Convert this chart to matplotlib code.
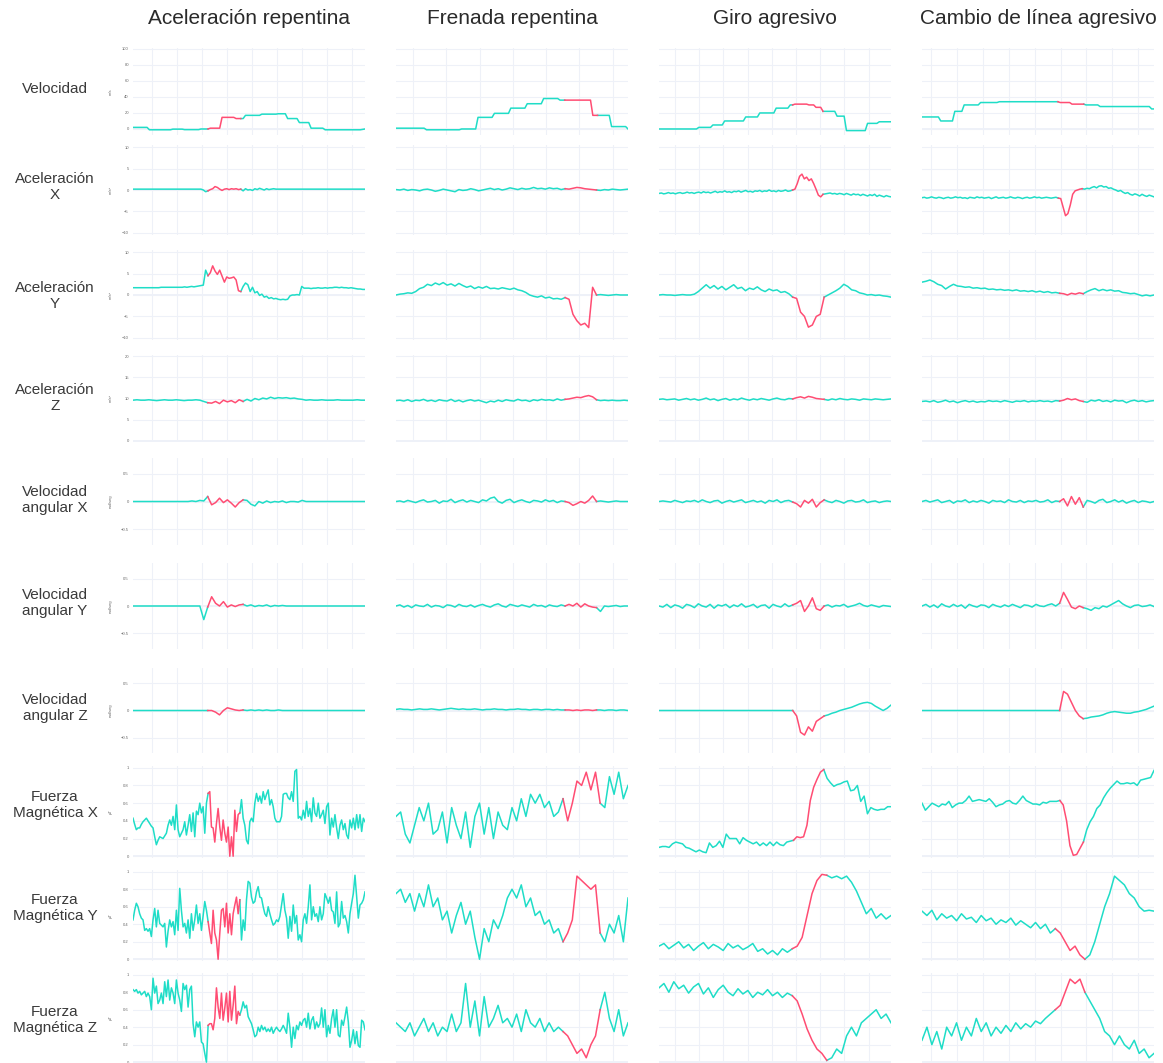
import numpy as np
import matplotlib
matplotlib.use("Agg")
import matplotlib.pyplot as plt
from matplotlib.ticker import MultipleLocator, FixedLocator, FuncFormatter

plt.rcParams['font.family'] = ['Liberation Sans', 'DejaVu Sans']

TEAL = '#1FDDC7'
RED = '#FF4D73'
GRID = '#EEF1F8'

maniobras = ['Aceleración repentina', 'Frenada repentina', 'Giro agresivo', 'Cambio de línea agresivo']
variables = ['Velocidad', 'Aceleración\nX', 'Aceleración\nY', 'Aceleración\nZ',
             'Velocidad\nangular X', 'Velocidad\nangular Y', 'Velocidad\nangular Z',
             'Fuerza\nMagnética X', 'Fuerza\nMagnética Y', 'Fuerza\nMagnética Z']
unidades = ['m/s', 'm/s²', 'm/s²', 'm/s²', 'rad/seg', 'rad/seg', 'rad/seg', 'μT', 'μT', 'μT']

# time span of every recording (s) and the marked event window (s)
t_inicio = [0.24, 0.49, 0.34, 0.65]
duracion = [9.28, 6.97, 9.59, 8.96]
evento = [(3.30, 4.51), (5.61, 6.50), (5.95, 7.08), (5.98, 6.83)]

# ---- velocidad ----
vel_acel = ([2]*7 + [-1]*10 + [-0.2]*5 + [-0.8]*7 + [0]*4 + [1]*5 + [14.5]*6 + [13]*2
            + [13]*2 + [17]*7 + [18.5]*7 + [19]*4 + [13]*5 + [8]*5 + [1]*6 + [-1]*16 + [-0.5, 0.0])
vel_fren = ([1]*13 + [-1]*15 + [0]*7 + [14.5]*7 + [19.5]*7 + [26]*7 + [31.5]*7 + [38]*7 + [36]*3
            + [36]*11 + [17]*2 + [17]*6 + [3]*7 + [0])
vel_giro = ([0]*17 + [2]*6 + [5]*5 + [10]*9 + [15]*6 + [20]*7 + [26]*6 + [30]*2
            + [31]*6 + [30]*3 + [27]*3 + [22]*6 + [16]*4 + [-2]*9 + [7]*5 + [9]*6)
vel_carril = ([15]*8 + [10]*6 + [22]*4 + [30]*7 + [33]*8 + [34]*26 + [33]*5 + [31]*6
              + [30]*6 + [28]*22 + [25]*2)

# ---- aceleración X ----
accx_acel = ([0.2]*30 + [0.0, -0.4, -0.2]
             + [0.1, 0.3, 0.8, 0.6, 0.2, -0.1, 0.2, 0.3, 0.1, 0.3, 0.2, 0.3, 0.1]
             + [0.2, -0.2, 0.3, 0.0, 0.1, -0.1, 0.3, 0.1, 0.4, 0.2, 0.0, 0.3, 0.1, 0.2, 0.3]
             + [0.2]*39)
accx_fren = [0.1, 0.0, 0.2, -0.1, 0.1, 0.0, -0.2, 0.1, 0.2, 0.0,
             -0.3, -0.1, 0.2, 0.0, -0.2, -0.4, 0.1, -0.1, 0.0, 0.3,
             0.1, -0.2, 0.0, 0.2, 0.4, 0.1, 0.3, 0.0, 0.2, 0.5,
             0.3, 0.1, 0.4, 0.2, 0.3, 0.6, 0.3, 0.4, 0.2, 0.5,
             0.3, 0.4, 0.1, 0.3, 0.2, 0.4, 0.6, 0.5, 0.3, 0.2, 0.1,
             0.0, -0.1, 0.1, 0.0, 0.2, 0.1, 0.0, 0.1, 0.2]
accx_giro = [-0.8, -0.7, -0.9, -0.8, -0.6, -0.8, -0.7, -0.9, -0.7, -0.6,
             -0.8, -0.7, -0.5, -0.7, -0.6, -0.8, -0.6, -0.5, -0.7, -0.4,
             -0.6, -0.5, -0.7, -0.5, -0.3, -0.6, -0.4, -0.5, -0.2, -0.5,
             -0.4, -0.6, -0.3, -0.4, -0.2, -0.5, -0.3, -0.1, -0.4, -0.3,
             -0.5, -0.2, -0.3, -0.1, -0.4, -0.2, -0.3, 0.0, -0.3, -0.2,
             -0.4, -0.1, -0.3, -0.2, 0.0, -0.3, -0.2, 0.0,
             0.2, 1.5, 3.2, 3.7, 2.6, 3.0, 2.2, 2.6, 1.5, 0.2, -1.2, -1.6,
             -1.0, -0.9, -0.8, -0.7, -0.9, -0.8, -1.0, -0.8, -0.9, -1.1,
             -0.8, -1.0, -1.2, -0.9, -1.1, -1.0, -1.3, -1.0, -1.2, -1.4,
             -1.1, -1.3, -1.0, -1.5, -1.2, -1.4, -1.6, -1.3, -1.5, -1.6]
accx_carril = [-1.8, -1.7, -1.9, -1.8, -1.6, -1.8, -1.9, -1.7, -1.8, -2.0,
               -1.8, -1.7, -1.9, -1.8, -1.6, -1.8, -1.7, -1.9, -1.8, -2.0,
               -1.7, -1.8, -1.9, -1.6, -1.8, -1.7, -1.9, -1.8, -1.7, -2.0,
               -1.8, -1.6, -1.9, -1.8, -1.7, -1.9, -1.8, -1.6, -1.8, -1.9,
               -1.7, -1.8, -2.0, -1.8, -1.7, -1.9, -1.8, -1.6, -1.8, -1.7,
               -1.9, -1.8, -1.7, -1.8, -1.9, -1.8, -1.7, -1.9,
               -2.0, -4.0, -6.0, -5.5, -3.5, -1.0, -0.2, 0.0, 0.2,
               0.3, 0.2, 0.4, 0.3, 0.6, 0.8, 0.5, 0.9, 1.0, 0.7, 0.8, 0.4, 0.5, 0.2, 0.0,
               -0.3, -0.1, -0.5, -0.8, -0.6, -1.0, -1.2, -0.9, -1.1, -1.4, -1.0, -1.3, -1.5,
               -1.2, -1.4, -1.6]

# ---- aceleración Y ----
accy_acel = ([1.7]*12 + [1.8]*10 + [1.9, 1.8, 1.9, 2.0, 1.9, 2.0, 2.1, 2.2]
             + [2.3, 5.8, 4.5]
             + [5.2, 6.8, 5.6, 4.8, 5.8, 4.4, 3.0, 4.2, 3.9, 4.0, 4.2, 3.5, 1.0]
             + [0.8, 2.0, 2.8, 2.4, 0.8, 1.8, 0.5, 0.8, -0.1, 0.2]
             + [-0.5, -0.3, -0.8, -0.6, -0.9, -0.8, -1.0, -1.1, -1.0, -1.1, -1.0]
             + [-0.2, 0.0, 0.0, 0.1, 0.0, 2.0, 1.6]
             + [1.6, 1.6, 1.5, 1.6, 1.6, 1.7, 1.6, 1.6, 1.7, 1.6, 1.7, 1.7, 1.8,
                1.8, 1.7, 1.8, 1.7, 1.7, 1.6, 1.7, 1.6, 1.5, 1.4, 1.4, 1.3, 1.3])
accy_fren = [0.0, 0.2, 0.3, 0.5, 0.4, 0.8, 1.5, 1.8, 2.5, 2.2,
             2.8, 2.4, 2.9, 2.3, 2.6, 2.1, 2.7, 2.2, 1.8, 2.1,
             1.5, 1.9, 1.6, 2.0, 1.5, 1.6, 1.4, 1.7, 1.5, 1.3,
             1.6, 1.2, 1.0, 0.6, 0.0, -0.3, -0.5, -0.2, -0.7, -0.5,
             -0.9, -0.8, -1.0, -0.6,
             -1.0, -4.5, -6.0, -7.0, -6.6, -7.6, 1.8,
             0.0, 0.1, 0.0, -0.1, 0.0, 0.1, 0.0, 0.0, 0.0]
accy_giro = [0.0, 0.1, 0.0, 0.0, -0.1, 0.0, 0.1, 0.0, 0.0, 0.2,
             0.8, 1.6, 2.4, 1.6, 2.2, 1.4, 2.0, 1.2, 1.8, 2.4, 1.5, 1.8, 1.0,
             1.6, 1.3, 1.9, 1.2, 0.8, 1.4, 1.0, 1.2, 0.6, 0.8, 0.3, -0.5,
             -0.8, -4.0, -5.0, -7.5, -7.0, -5.0, -4.5,
             -0.5, 0.0, 0.5, 1.0, 1.6, 2.5, 2.0, 1.2, 1.0, 0.5, 0.3, 0.0,
             0.1, -0.1, 0.0, -0.2, -0.3, -0.5]
accy_carril = [3.0, 3.2, 3.5, 3.1, 2.5, 2.2, 1.4, 2.0, 2.5, 2.1,
               2.0, 1.8, 1.9, 1.6, 1.7, 1.5, 1.6, 1.3, 1.4, 1.2,
               1.3, 1.1, 1.2, 1.0, 1.2, 0.9, 1.0, 0.8, 1.0, 0.7,
               0.9, 0.6, 0.8, 0.5, 0.6, 0.4,
               0.3, 0.0, 0.4, 0.2, 0.5, 0.3,
               0.8, 1.2, 1.5, 1.0, 1.3, 1.0, 1.2, 0.9, 1.0, 0.6, 0.5, 0.3,
               0.4, 0.1, -0.2, 0.0, -0.2, 0.0]

# ---- aceleración Z ----
accz_acel = [9.6, 9.7, 9.6, 9.6, 9.7, 9.6, 9.5, 9.6, 9.7, 9.6, 9.6, 9.7, 9.6, 9.5, 9.6, 9.6, 9.7, 9.6,
             9.3, 9.0,
             8.9, 9.3, 8.8, 9.6, 9.2, 9.5, 9.0, 9.7,
             9.3, 9.8, 9.4, 10.0, 9.7, 10.1, 9.9, 10.3, 10.0, 10.2, 10.1, 10.2, 10.0, 10.1, 9.9, 9.8, 9.6, 9.7,
             9.6, 9.6, 9.7, 9.6, 9.6, 9.6, 9.7, 9.6, 9.6, 9.6, 9.6, 9.7, 9.6, 9.6]
accz_fren = [9.5, 9.6, 9.4, 9.7, 9.3, 9.6, 9.5, 9.8, 9.4, 9.6,
             9.3, 9.7, 9.5, 9.4, 9.8, 9.3, 9.6, 9.2, 9.5, 9.7,
             9.4, 9.6, 9.3, 9.0, 9.4, 9.2, 9.6, 9.3, 9.7, 9.5,
             9.4, 9.8, 9.5, 9.6, 9.3, 9.7, 9.5, 9.8, 9.6, 9.7,
             9.5, 9.9, 9.6, 9.8,
             9.9, 10.1, 10.3, 10.2, 10.5, 10.7, 10.4,
             9.7, 9.5, 9.6, 9.5, 9.6, 9.5, 9.5, 9.6, 9.5]
accz_giro = [9.8, 9.9, 9.7, 9.8, 9.9, 9.6, 9.8, 10.0, 9.7, 9.9,
             9.6, 9.8, 10.1, 9.7, 9.9, 9.5, 9.8, 10.0, 9.6, 9.9,
             9.7, 10.1, 9.8, 9.6, 9.9, 9.7, 10.0, 9.8, 9.6, 9.9,
             10.1, 9.8, 9.7, 10.0, 9.9,
             10.2, 10.4, 10.1, 10.5, 10.3, 10.0, 9.9,
             9.8, 9.6, 9.9, 9.7, 10.0, 9.8, 9.7, 9.9, 9.8, 9.6, 9.9, 9.8, 9.7, 9.9, 9.8, 9.7, 9.8, 9.9]
accz_carril = [9.3, 9.4, 9.2, 9.5, 9.1, 9.3, 9.6, 9.2, 9.4, 9.0,
               9.3, 9.5, 9.2, 9.4, 9.1, 9.3, 9.2, 9.5, 9.3, 9.4,
               9.2, 9.5, 9.3, 9.1, 9.4, 9.3, 9.5, 9.2, 9.4, 9.3,
               9.5, 9.3, 9.4, 9.2, 9.5, 9.4,
               9.6, 10.0, 9.7, 9.9, 9.5, 9.3,
               9.1, 9.6, 9.4, 9.7, 9.3, 9.5, 9.2, 9.6, 9.4, 9.5, 9.0, 9.4, 9.6, 9.3, 9.5, 9.2, 9.4, 9.5]

# ---- velocidad angular X ----
gyrx_acel = ([0.0]*15 + [0.01, 0.0, 0.02, 0.01, 0.09]
             + [-0.06, -0.02, 0.06, -0.02, 0.03, -0.03, -0.1, -0.02]
             + [0.03, 0.02, -0.05, -0.08, 0.0, -0.03, 0.01, -0.02, 0.0, -0.01, 0.01, -0.02, 0.0, 0.0, -0.01, 0.02, 0.0]
             + [0.0]*15)
gyrx_fren = [0.0, 0.01, -0.01, 0.02, 0.0, -0.02, 0.01, 0.03, -0.01, 0.0,
             0.02, -0.03, 0.01, 0.0, 0.04, -0.02, 0.01, 0.03, -0.01, 0.02,
             0.0, -0.02, 0.03, 0.01, 0.06, 0.08, 0.0, -0.03, 0.02, 0.04,
             -0.02, 0.01, 0.03, 0.0, -0.02, 0.02, 0.01, -0.01, 0.03, 0.0,
             0.02, -0.02, 0.01, 0.0,
             -0.02, -0.07, -0.04, 0.0, -0.03, 0.02, 0.1,
             0.0, 0.01, 0.0, -0.01, 0.0, 0.01, 0.0, 0.0, 0.0]
gyrx_giro = [0.0, 0.01, 0.0, -0.01, 0.02, 0.0, -0.02, 0.01, 0.0, 0.02,
             -0.01, 0.03, 0.0, -0.02, 0.01, 0.02, -0.03, 0.0, 0.02, -0.01,
             0.01, 0.03, -0.02, 0.0, 0.02, -0.01, 0.01, -0.03, 0.02, 0.0,
             0.03, -0.02, 0.01, 0.02, -0.01,
             -0.04, -0.1, 0.02, -0.03, 0.04, -0.1, -0.02,
             0.03, 0.0, -0.02, 0.02, 0.0, -0.03, 0.01, 0.02, -0.01, 0.0, 0.03, -0.02, 0.0, 0.01, -0.02, 0.0, 0.01, 0.0]
gyrx_carril = [0.0, 0.02, -0.01, 0.01, 0.03, -0.02, 0.0, 0.02, -0.03, 0.01,
               0.0, 0.03, -0.02, 0.01, -0.01, 0.02, 0.0, -0.03, 0.02, 0.0,
               0.01, -0.02, 0.03, 0.0, -0.01, 0.02, -0.02, 0.01, 0.0, 0.02,
               -0.01, 0.0, 0.03, -0.02, 0.01, 0.0,
               0.05, -0.08, 0.09, -0.05, 0.07, -0.1,
               0.02, 0.0, -0.03, 0.02, 0.04, -0.02, 0.0, 0.03, -0.01, 0.02, -0.03, 0.0, 0.02, -0.02, 0.01, 0.0, -0.02, 0.0]

# ---- velocidad angular Y ----
gyry_acel = ([0.0]*18 + [-0.25, -0.02]
             + [0.17, 0.05, 0.0, 0.08, -0.02, 0.02, -0.01, 0.02]
             + [0.03, 0.0, 0.02, -0.01, 0.01, 0.0, 0.02, -0.01, 0.01, 0.0, 0.01]
             + [0.0]*21)
gyry_fren = [0.0, 0.02, -0.02, 0.01, -0.03, 0.02, 0.0, -0.01, 0.03, -0.02,
             0.01, 0.0, -0.03, 0.02, 0.01, -0.02, 0.03, 0.0, -0.01, 0.02,
             -0.02, 0.01, 0.03, 0.0, -0.02, 0.02, 0.04, 0.0, -0.02, 0.03,
             0.01, -0.01, 0.02, 0.0, -0.02, 0.03, 0.0, 0.01, -0.02, 0.02,
             0.0, -0.01, 0.02, 0.0,
             0.03, 0.0, 0.05, -0.02, 0.04, 0.0, -0.02,
             -0.03, -0.1, 0.0, -0.01, 0.0, 0.01, -0.01, 0.0, 0.0]
gyry_giro = [0.0, -0.02, 0.03, -0.03, 0.02, 0.0, -0.04, 0.03, 0.01, -0.03,
             0.04, 0.0, -0.02, 0.03, -0.04, 0.02, 0.0, 0.03, -0.03, 0.02,
             -0.01, 0.04, -0.02, 0.0, 0.03, -0.03, 0.01, 0.02, -0.04, 0.03,
             0.0, -0.02, 0.04, -0.01, 0.02,
             0.05, 0.1, -0.1, 0.0, 0.15, -0.05, -0.08,
             0.0, 0.02, -0.02, 0.01, 0.0, 0.03, -0.02, 0.0, 0.02, 0.05, 0.01, -0.01, 0.02, 0.0, -0.02, 0.01, 0.0, -0.01]
gyry_carril = [0.0, 0.03, -0.02, 0.02, -0.03, 0.04, 0.0, -0.02, 0.03, -0.01,
               0.02, -0.04, 0.03, 0.0, -0.02, 0.02, 0.01, -0.03, 0.03, 0.0,
               -0.02, 0.02, -0.01, 0.03, 0.0, -0.03, 0.02, 0.01, -0.02, 0.03,
               0.0, -0.01, 0.02, 0.04, 0.0, 0.05,
               0.25, 0.12, -0.02, -0.05, 0.0, -0.03,
               -0.05, -0.08, -0.03, -0.05, 0.0, -0.02, 0.02, 0.06, 0.1, 0.04, 0.0, -0.03, 0.01, 0.02, -0.01, 0.0, 0.02, -0.01]

# ---- velocidad angular Z ----
gyrz_acel = ([0.0]*20 + [0.0, -0.03, -0.08, 0.0, 0.05, 0.03, 0.01, 0.0]
             + [0.01, 0.0, 0.01, 0.0, 0.01, 0.0, 0.01, 0.0, 0.0, 0.01, 0.0, 0.0] + [0.0]*20)
gyrz_fren = [0.02, 0.03, 0.02, 0.02, 0.01, 0.02, 0.03, 0.02, 0.02, 0.03,
             0.02, 0.01, 0.02, 0.03, 0.04, 0.03, 0.02, 0.03, 0.02, 0.02,
             0.03, 0.02, 0.01, 0.02, 0.02, 0.03, 0.02, 0.02, 0.01, 0.02,
             0.02, 0.03, 0.02, 0.02, 0.01, 0.02, 0.02, 0.01, 0.02, 0.02,
             0.01, 0.02, 0.01, 0.01,
             0.01, 0.0, 0.01, 0.0, 0.01, 0.01, 0.0,
             0.01, 0.01, 0.0, 0.01, 0.01, 0.0, 0.01, 0.01, 0.0]
gyrz_giro = ([0.0]*35 + [-0.1, -0.4, -0.45, -0.3, -0.38, -0.2, -0.15]
             + [-0.1, -0.08, -0.05, -0.03, 0.0, 0.02, 0.04, 0.06, 0.09, 0.12, 0.14, 0.15, 0.13, 0.08, 0.04, 0.0, 0.04, 0.1])
gyrz_carril = ([0.0]*36 + [0.35, 0.3, 0.15, 0.0, -0.1, -0.15]
               + [-0.14, -0.12, -0.11, -0.1, -0.08, -0.05, -0.03, -0.02, -0.03, -0.04, -0.05, -0.05, -0.03, -0.02, 0.0, 0.02, 0.05, 0.08])

# ---- fuerza magnética X ----
magx_acel = [0.43, 0.36, 0.30, 0.32, 0.32, 0.36, 0.39, 0.41, 0.43, 0.40,
             0.37, 0.34, 0.32, 0.22, 0.13, 0.18, 0.22, 0.21, 0.20, 0.23,
             0.26, 0.35, 0.41, 0.35, 0.45, 0.30, 0.58, 0.30, 0.22, 0.26,
             0.30, 0.39, 0.24, 0.35, 0.47, 0.28, 0.49, 0.22, 0.51, 0.47,
             0.60, 0.49, 0.56, 0.26, 0.60, 0.71,
             0.73, 0.33, 0.32, 0.16, 0.37, 0.54, 0.33, 0.18, 0.41, 0.26,
             0.16, 0.33, 0.0, 0.22, 0.0, 0.52, 0.28, 0.47,
             0.49, 0.64, 0.43, 0.35, 0.18, 0.14, 0.39, 0.43, 0.39, 0.60,
             0.71, 0.62, 0.68, 0.60, 0.73, 0.64, 0.70, 0.75, 0.58, 0.64,
             0.56, 0.43, 0.39, 0.39, 0.39, 0.45, 0.70, 0.71, 0.71, 0.66,
             0.64, 0.73, 0.62, 0.96, 0.98, 0.43, 0.45, 0.41, 0.52, 0.43,
             0.62, 0.45, 0.54, 0.39, 0.66, 0.49, 0.45, 0.60, 0.43, 0.47,
             0.52, 0.37, 0.56, 0.60, 0.24, 0.43, 0.33, 0.47, 0.32, 0.20,
             0.35, 0.41, 0.30, 0.37, 0.24, 0.20, 0.41, 0.32, 0.43, 0.30,
             0.47, 0.32, 0.47, 0.28, 0.43, 0.39]
magx_fren = [0.45, 0.50, 0.25, 0.15, 0.35, 0.55, 0.40, 0.60, 0.25, 0.30,
             0.50, 0.15, 0.55, 0.35, 0.20, 0.50, 0.10, 0.45, 0.60, 0.25,
             0.55, 0.20, 0.50, 0.35, 0.30, 0.55, 0.40, 0.65, 0.45, 0.70,
             0.60, 0.70, 0.55, 0.62, 0.45, 0.50, 0.65,
             0.40, 0.60, 0.85, 0.80, 0.95, 0.75, 0.95,
             0.60, 0.55, 0.90, 0.70, 0.95, 0.65, 0.80]
magx_giro = [0.10, 0.11, 0.11, 0.10, 0.14, 0.16, 0.15, 0.14, 0.10, 0.09,
             0.07, 0.05, 0.07, 0.05, 0.04, 0.15, 0.10, 0.12, 0.17, 0.10,
             0.25, 0.20, 0.20, 0.20, 0.14, 0.21, 0.18, 0.16, 0.14, 0.16,
             0.12, 0.15, 0.12, 0.16, 0.12, 0.16, 0.13, 0.12, 0.16, 0.17, 0.18,
             0.22, 0.21, 0.22, 0.35, 0.63, 0.78, 0.87, 0.95,
             0.98, 0.88, 0.83, 0.79, 0.81, 0.82, 0.84, 0.85, 0.74, 0.75,
             0.80, 0.62, 0.68, 0.48, 0.55, 0.53, 0.52, 0.53, 0.53, 0.56, 0.56]
magx_carril = [0.60, 0.52, 0.56, 0.60, 0.58, 0.56, 0.59, 0.58, 0.62, 0.55,
               0.58, 0.60, 0.60, 0.63, 0.68, 0.62, 0.63, 0.64, 0.63, 0.62,
               0.65, 0.61, 0.56, 0.58, 0.59, 0.62, 0.63, 0.60, 0.59, 0.63,
               0.68, 0.63, 0.61, 0.59, 0.59, 0.58, 0.61, 0.60, 0.62, 0.62,
               0.62, 0.63,
               0.58, 0.40, 0.12, 0.01, 0.02,
               0.09, 0.16, 0.30, 0.39, 0.45, 0.54, 0.58, 0.66, 0.72, 0.77,
               0.81, 0.85, 0.82, 0.82, 0.83, 0.82, 0.83, 0.80, 0.86, 0.87,
               0.88, 0.89, 0.97]

# ---- fuerza magnética Y ----
magy_acel = [0.45, 0.56, 0.64, 0.60, 0.52, 0.47, 0.45, 0.33, 0.35, 0.32,
             0.35, 0.26, 0.45, 0.58, 0.37, 0.56, 0.41, 0.39, 0.37, 0.41,
             0.14, 0.32, 0.45, 0.37, 0.43, 0.28, 0.56, 0.33, 0.81, 0.56,
             0.37, 0.41, 0.30, 0.45, 0.24, 0.52, 0.33, 0.45, 0.62, 0.41,
             0.52, 0.33, 0.50, 0.66, 0.56, 0.43,
             0.30, 0.18, 0.56, 0.30, 0.22, 0.0, 0.30, 0.56, 0.58, 0.37,
             0.64, 0.30, 0.52, 0.28, 0.52, 0.62, 0.71, 0.52,
             0.68, 0.22, 0.45, 0.33, 0.68, 0.89, 0.87, 0.71, 0.64, 0.66,
             0.77, 0.83, 0.71, 0.70, 0.60, 0.52, 0.49, 0.60, 0.52, 0.45,
             0.39, 0.41, 0.45, 0.43, 0.49, 0.62, 0.75, 0.56, 0.47, 0.24,
             0.49, 0.32, 0.62, 0.41, 0.50, 0.22, 0.28, 0.20, 0.45, 0.52,
             0.41, 0.60, 0.85, 0.45, 0.60, 0.49, 0.52, 0.43, 0.60, 0.45,
             0.52, 0.75, 0.70, 0.64, 0.71, 0.56, 0.54, 0.41, 0.77, 0.37,
             0.41, 0.66, 0.47, 0.50, 0.43, 0.30, 0.52, 0.64, 0.75, 0.96,
             0.71, 0.47, 0.62, 0.64, 0.68, 0.77]
magy_fren = [0.75, 0.80, 0.65, 0.75, 0.55, 0.75, 0.60, 0.85, 0.60, 0.70,
             0.45, 0.55, 0.30, 0.50, 0.65, 0.40, 0.55, 0.25, 0.0, 0.35,
             0.20, 0.45, 0.35, 0.50, 0.70, 0.80, 0.70, 0.85, 0.60, 0.70,
             0.50, 0.55, 0.40, 0.45, 0.30, 0.35, 0.20,
             0.30, 0.45, 0.95, 0.90, 0.85, 0.80, 0.85,
             0.30, 0.20, 0.40, 0.30, 0.50, 0.20, 0.70]
magy_giro = [0.15, 0.18, 0.12, 0.16, 0.20, 0.13, 0.17, 0.10, 0.15, 0.19,
             0.12, 0.17, 0.14, 0.10, 0.18, 0.13, 0.16, 0.11, 0.14, 0.18,
             0.09, 0.12, 0.06, 0.10, 0.05, 0.12, 0.08, 0.12,
             0.15, 0.25, 0.50, 0.75, 0.90, 0.97,
             0.96, 0.93, 0.95, 0.92, 0.95, 0.88, 0.78, 0.65, 0.52, 0.58,
             0.47, 0.52, 0.46, 0.50]
magy_carril = [0.55, 0.50, 0.56, 0.45, 0.52, 0.47, 0.50, 0.44, 0.52, 0.46,
               0.48, 0.42, 0.50, 0.44, 0.47, 0.40, 0.45, 0.42, 0.47, 0.39,
               0.44, 0.40, 0.36, 0.42, 0.35, 0.40, 0.30, 0.35,
               0.30, 0.20, 0.10, 0.15, 0.05,
               0.0, 0.05, 0.20, 0.40, 0.60, 0.75, 0.95, 0.90, 0.85, 0.75,
               0.70, 0.60, 0.55, 0.56, 0.55]

# ---- fuerza magnética Z ----
magz_acel = [0.83, 0.81, 0.83, 0.79, 0.81, 0.77, 0.79, 0.81, 0.75, 0.79,
             0.75, 0.60, 0.96, 0.79, 0.87, 0.67, 0.71, 0.79, 0.67, 0.92,
             0.75, 0.94, 0.71, 0.85, 0.79, 0.67, 0.94, 0.79, 0.71, 0.58,
             0.90, 0.83, 0.88, 0.63, 0.83, 0.87, 0.44, 0.29, 0.46, 0.40,
             0.46, 0.23, 0.21, 0.10, 0.0, 0.42,
             0.44, 0.44, 0.37, 0.50, 0.85, 0.63, 0.50, 0.79, 0.48, 0.62,
             0.79, 0.46, 0.81, 0.48, 0.65, 0.87, 0.44, 0.58,
             0.54, 0.60, 0.69, 0.62, 0.65, 0.52, 0.48, 0.44, 0.37, 0.29,
             0.31, 0.40, 0.35, 0.42, 0.37, 0.40, 0.35, 0.38, 0.35, 0.40,
             0.33, 0.37, 0.40, 0.37, 0.35, 0.38, 0.42, 0.38, 0.33, 0.56,
             0.40, 0.17, 0.40, 0.27, 0.42, 0.37, 0.46, 0.42, 0.48, 0.50,
             0.40, 0.56, 0.38, 0.48, 0.52, 0.38, 0.46, 0.40, 0.44, 0.62,
             0.40, 0.60, 0.29, 0.42, 0.33, 0.50, 0.60, 0.40, 0.60, 0.31,
             0.29, 0.48, 0.42, 0.52, 0.63, 0.46, 0.17, 0.25, 0.37, 0.21,
             0.35, 0.19, 0.17, 0.48, 0.46, 0.37]
magz_fren = [0.45, 0.40, 0.35, 0.45, 0.30, 0.40, 0.50, 0.35, 0.45, 0.30,
             0.40, 0.35, 0.55, 0.35, 0.45, 0.90, 0.40, 0.70, 0.30, 0.75,
             0.40, 0.50, 0.65, 0.45, 0.50, 0.40, 0.55, 0.35, 0.60, 0.45,
             0.40, 0.50, 0.35, 0.45, 0.35, 0.40, 0.35,
             0.30, 0.20, 0.10, 0.15, 0.05, 0.20, 0.30,
             0.60, 0.80, 0.50, 0.35, 0.60, 0.30, 0.45]
magz_giro = [0.85, 0.90, 0.80, 0.92, 0.84, 0.88, 0.79, 0.86, 0.90, 0.78,
             0.85, 0.74, 0.83, 0.88, 0.80, 0.76, 0.84, 0.78, 0.82, 0.74,
             0.80, 0.77, 0.83, 0.76, 0.80, 0.74, 0.79, 0.76,
             0.70, 0.55, 0.38, 0.25, 0.15, 0.10,
             0.02, 0.05, 0.15, 0.10, 0.30, 0.40, 0.30, 0.45, 0.50, 0.55,
             0.60, 0.50, 0.55, 0.45]
magz_carril = [0.25, 0.40, 0.20, 0.35, 0.15, 0.40, 0.30, 0.45, 0.25, 0.40,
               0.30, 0.50, 0.35, 0.45, 0.30, 0.40, 0.33, 0.42, 0.35, 0.45,
               0.38, 0.44, 0.40, 0.47, 0.44, 0.50, 0.55, 0.60,
               0.65, 0.80, 0.95, 0.90, 0.95,
               0.80, 0.70, 0.60, 0.50, 0.35, 0.30, 0.20, 0.30, 0.20, 0.15,
               0.25, 0.10, 0.15, 0.05, 0.10]

series = [
    [vel_acel, vel_fren, vel_giro, vel_carril],
    [accx_acel, accx_fren, accx_giro, accx_carril],
    [accy_acel, accy_fren, accy_giro, accy_carril],
    [accz_acel, accz_fren, accz_giro, accz_carril],
    [gyrx_acel, gyrx_fren, gyrx_giro, gyrx_carril],
    [gyry_acel, gyry_fren, gyry_giro, gyry_carril],
    [gyrz_acel, gyrz_fren, gyrz_giro, gyrz_carril],
    [magx_acel, magx_fren, magx_giro, magx_carril],
    [magy_acel, magy_fren, magy_giro, magy_carril],
    [magz_acel, magz_fren, magz_giro, magz_carril],
]

y_rangos = [(-7.5, 101), (-10.5, 10.5), (-10.5, 10.5), (-0.3, 20.3),
            (-0.79, 0.79), (-0.79, 0.79), (-0.78, 0.78),
            (-0.02, 1.02), (-0.02, 1.02), (-0.01, 1.02)]
y_ticks = [[0, 20, 40, 60, 80, 100], [-10, -5, 0, 5, 10], [-10, -5, 0, 5, 10], [0, 5, 10, 15, 20],
           [-0.5, 0, 0.5], [-0.5, 0, 0.5], [-0.5, 0, 0.5],
           [0, 0.2, 0.4, 0.6, 0.8, 1], [0, 0.2, 0.4, 0.6, 0.8, 1], [0, 0.2, 0.4, 0.6, 0.8, 1]]

# layout in pixels
W, H = 1163, 1063
col_x = [133, 396, 659, 922]
col_w = 232
fila_top = [48, 145, 250, 355, 458, 563, 668, 766, 870, 973]
fila_bot = [135, 235, 340, 442, 545, 649, 753, 858, 961, 1063]
etiqueta_y = [89, 187, 296, 398, 500, 603, 708, 805, 908, 1020]

fig = plt.figure(figsize=(W / 100, H / 100), dpi=100)
fmt = FuncFormatter(lambda v, p: f"{v:g}".replace('-', '\u2212'))

for r in range(10):
    for c in range(4):
        top, bot = fila_top[r], fila_bot[r]
        ax = fig.add_axes([col_x[c] / W, 1 - bot / H, col_w / W, (bot - top) / H])
        vals = np.array(series[r][c], dtype=float)
        t = np.linspace(t_inicio[c], t_inicio[c] + duracion[c], len(vals))
        en_evento = (t >= evento[c][0]) & (t <= evento[c][1])
        # red trace also takes the neighbouring samples so the two traces meet
        rojo = en_evento.copy()
        rojo[1:] |= en_evento[:-1]
        rojo[:-1] |= en_evento[1:]
        ax.plot(t, np.where(en_evento, np.nan, vals), color=TEAL, lw=1.1, zorder=3)
        ax.plot(t, np.where(rojo, vals, np.nan), color=RED, lw=1.1, zorder=4)
        ax.axhline(0, color=GRID, lw=1.4, zorder=1)

        ax.set_xlim(t_inicio[c], t_inicio[c] + duracion[c])
        ax.set_ylim(*y_rangos[r])
        ax.xaxis.set_major_locator(MultipleLocator(1))
        ax.yaxis.set_major_locator(FixedLocator(y_ticks[r]))
        ax.grid(True, color=GRID, lw=0.75, zorder=0)
        ax.set_axisbelow(True)
        for s in ax.spines.values():
            s.set_visible(False)
        ax.tick_params(length=0, labelbottom=False)
        if c == 0:
            ax.yaxis.set_major_formatter(fmt)
            ax.tick_params(axis='y', labelsize=3, labelcolor='#666666', pad=3)
            ax.set_ylabel(unidades[r], fontsize=3, color='#666666')
            ax.yaxis.set_label_coords(-20 / col_w, 0.5)
        else:
            ax.tick_params(labelleft=False)

        if r == 0:
            fig.text((col_x[c] + col_w / 2) / W, 1 - 18 / H, maniobras[c],
                     ha='center', va='center', fontsize=15, color='#2a2a2a')
    fig.text(55 / W, 1 - etiqueta_y[r] / H, variables[r], ha='center', va='center',
             fontsize=11, color='#3a3a3a', linespacing=1.2)

fig.savefig('out.png', dpi=100, facecolor='white')
